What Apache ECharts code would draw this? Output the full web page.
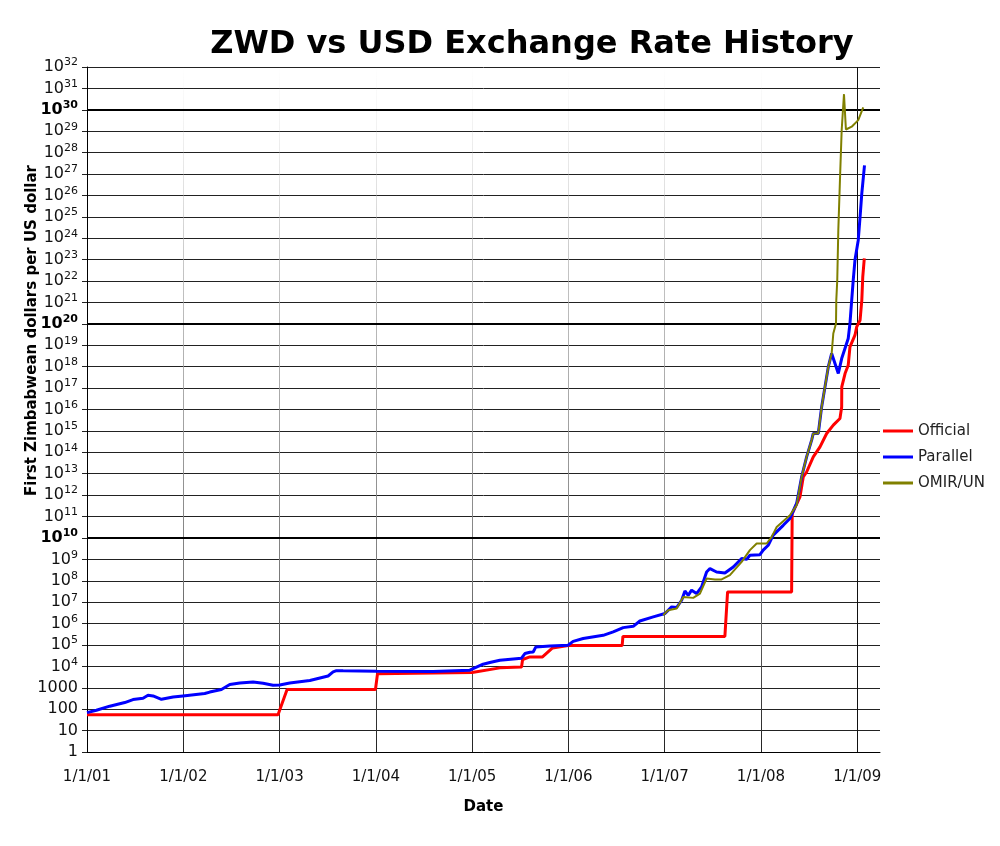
<!DOCTYPE html>
<html>
<head>
<meta charset="utf-8">
<title>ZWD vs USD Exchange Rate History</title>
<script src="https://cdn.jsdelivr.net/npm/echarts@6/dist/echarts.min.js"></script>
<style>
	html,body{margin:0;padding:0;background:#fff;}
	#chart{width:1000px;height:846px;}
</style>
</head>
<body>
<div id="chart"></div>
<script>
//dates are decimal years, values are log10 of ZWD per USD
var officialDates = [2001.0, 2002.984, 2003.078, 2003.996, 2004.017, 2005.0, 2005.288, 2005.513, 2005.524, 2005.6, 2005.731, 2005.835, 2005.997, 2006.558, 2006.566, 2007.625, 2007.653, 2008.318, 2008.324, 2008.405, 2008.439, 2008.474, 2008.543, 2008.613, 2008.682, 2008.751, 2008.82, 2008.838, 2008.839, 2008.873, 2008.906, 2008.924, 2008.976, 2008.994, 2009.029, 2009.047, 2009.057, 2009.073];
var officialLog = [1.74, 1.74, 2.92, 2.92, 3.65, 3.71, 3.93, 3.97, 4.32, 4.44, 4.44, 4.86, 4.97, 4.97, 5.40, 5.40, 7.48, 7.48, 11.14, 11.92, 12.85, 13.08, 13.79, 14.25, 14.88, 15.27, 15.58, 16.12, 17.06, 17.68, 18.07, 18.93, 19.47, 19.86, 20.17, 21.1, 22.2, 23.06];

var parallelDates = [2001.0, 2001.098, 2001.236, 2001.392, 2001.478, 2001.582, 2001.634, 2001.686, 2001.773, 2001.894, 2001.997, 2002.223, 2002.275, 2002.396, 2002.483, 2002.587, 2002.725, 2002.829, 2002.932, 2003.002, 2003.106, 2003.314, 2003.504, 2003.556, 2003.591, 2003.66, 2004.007, 2004.595, 2004.976, 2005.114, 2005.184, 2005.288, 2005.513, 2005.548, 2005.6, 2005.634, 2005.662, 2005.808, 2005.997, 2006.049, 2006.153, 2006.361, 2006.465, 2006.569, 2006.673, 2006.742, 2006.881, 2007.003, 2007.072, 2007.124, 2007.176, 2007.21, 2007.244, 2007.279, 2007.331, 2007.383, 2007.435, 2007.47, 2007.539, 2007.625, 2007.712, 2007.799, 2007.851, 2007.885, 2007.989, 2008.023, 2008.075, 2008.127, 2008.231, 2008.301, 2008.37, 2008.422, 2008.474, 2008.526, 2008.543, 2008.595, 2008.63, 2008.699, 2008.734, 2008.803, 2008.838, 2008.906, 2008.924, 2008.942, 2008.958, 2008.976, 2009.01, 2009.029, 2009.047, 2009.075];
var parallelLog = [1.84, 1.95, 2.14, 2.31, 2.45, 2.51, 2.65, 2.62, 2.46, 2.57, 2.62, 2.73, 2.80, 2.92, 3.15, 3.22, 3.27, 3.21, 3.12, 3.13, 3.22, 3.34, 3.55, 3.74, 3.80, 3.79, 3.77, 3.76, 3.82, 4.10, 4.18, 4.29, 4.38, 4.60, 4.66, 4.67, 4.91, 4.95, 4.99, 5.17, 5.30, 5.45, 5.61, 5.81, 5.87, 6.12, 6.31, 6.47, 6.78, 6.75, 7.09, 7.52, 7.32, 7.56, 7.40, 7.71, 8.41, 8.57, 8.41, 8.36, 8.64, 9.04, 9.00, 9.19, 9.22, 9.43, 9.66, 10.13, 10.59, 10.91, 11.61, 12.85, 13.79, 14.57, 14.88, 14.88, 16.12, 17.99, 18.62, 17.68, 18.38, 19.32, 20.02, 21.1, 22.04, 22.98, 23.91, 25.0, 26.1, 27.4];

var omirDates = [2006.984, 2007.036, 2007.124, 2007.193, 2007.296, 2007.366, 2007.435, 2007.522, 2007.591, 2007.677, 2007.799, 2007.885, 2007.955, 2008.059, 2008.111, 2008.163, 2008.301, 2008.37, 2008.422, 2008.474, 2008.526, 2008.543, 2008.595, 2008.63, 2008.699, 2008.734, 2008.751, 2008.779, 2008.782, 2008.792, 2008.803, 2008.82, 2008.838, 2008.862, 2008.882, 2008.942, 2009.01, 2009.062];
var omirLog = [6.39, 6.62, 6.70, 7.24, 7.20, 7.40, 8.10, 8.06, 8.06, 8.26, 8.88, 9.43, 9.74, 9.74, 10.05, 10.51, 11.06, 11.53, 12.85, 13.79, 14.57, 14.88, 14.88, 16.12, 17.99, 18.62, 19.55, 20.02, 21.1, 22.04, 24.38, 26.71, 29.05, 30.73, 29.08, 29.21, 29.52, 30.11];

var seriesNames = ['Official', 'Parallel', 'OMIR/UN'];
var seriesColors = ['#ff0000', '#0000ff', '#808000'];
var yearTicks = ['1/1/01', '1/1/02', '1/1/03', '1/1/04', '1/1/05', '1/1/06', '1/1/07', '1/1/08', '1/1/09'];

function pairs(xs, ys){
	var out = [];
	for(var i = 0; i < xs.length; i++){
		out.push([xs[i], ys[i]]);
	}
	return out;
}

//y axis tick text: 1, 10, 100, 1000, then 10 with a superscript
function powerLabel(v){
	if(v == 0) return '1';
	if(v == 1) return '10';
	if(v == 2) return '100';
	if(v == 3) return '1000';
	if(v % 10 == 0) return '{bb|10}{bs|' + v + '}';
	return '{b|10}{s|' + v + '}';
}

var myChart = echarts.init(document.getElementById('chart'));
var font = 'DejaVu Sans';

var option = {
	backgroundColor: '#ffffff',
	animation: false,
	textStyle: {fontFamily: font, color: '#111'},
	title: {
		text: 'ZWD vs USD Exchange Rate History',
		left: 527,
		textAlign: 'center',
		top: 24,
		textStyle: {fontFamily: font, fontSize: 32, fontWeight: 'bold', color: '#000'}
	},
	legend: {
		orient: 'vertical',
		left: 883,
		top: 422,
		padding: 0,
		icon: 'rect',
		itemWidth: 30,
		itemHeight: 3,
		itemGap: 8,
		data: seriesNames,
		textStyle: {fontFamily: font, fontSize: 15, color: '#222', lineHeight: 18}
	},
	grid: {left: 87, right: 120, top: 67, bottom: 94},
	xAxis: {
		type: 'value',
		min: 2001,
		max: 2009.236,
		interval: 1,
		name: 'Date',
		nameLocation: 'middle',
		nameGap: 48,
		nameMoveOverlap: false,
		nameTextStyle: {fontFamily: font, fontSize: 15, fontWeight: 'bold', color: '#000'},
		axisLine: {show: true, lineStyle: {color: '#000', width: 1}},
		axisTick: {show: false},
		axisLabel: {
			margin: 18,
			fontFamily: font,
			fontSize: 15,
			color: '#111',
			formatter: function(v){
				var i = Math.round(v - 2001);
				if(Math.abs(v - 2001 - i) > 1e-6) return '';
				return yearTicks[i] || '';
			}
		},
		splitLine: {
			show: true,
			showMinLine: false,
			showMaxLine: false,
			lineStyle: {
				width: 1,
				color: {
					type: 'linear', x: 0, y: 0, x2: 0, y2: 1,
					colorStops: [
						{offset: 0, color: 'rgba(200,200,200,0)'},
						{offset: 0.3, color: 'rgba(170,170,170,0.7)'},
						{offset: 0.75, color: '#777'},
						{offset: 1, color: '#222'}
					]
				}
			}
		}
	},
	yAxis: {
		type: 'value',
		min: 0,
		max: 32,
		interval: 1,
		name: 'First Zimbabwean dollars per US dollar',
		nameLocation: 'middle',
		nameGap: 47,
		nameMoveOverlap: false,
		nameTextStyle: {fontFamily: font, fontSize: 15, fontWeight: 'bold', color: '#000', padding: [0, 0, 0, 158]},
		axisLine: {show: true, lineStyle: {color: '#000', width: 1}},
		axisTick: {show: true, length: 5, lineStyle: {color: '#222'}},
		axisLabel: {
			margin: 9,
			formatter: powerLabel,
			fontFamily: font,
			fontSize: 16,
			color: '#111',
			rich: {
				b: {fontFamily: font, fontSize: 16, color: '#111', lineHeight: 20},
				s: {fontFamily: font, fontSize: 11, color: '#111', lineHeight: 12, verticalAlign: 'top'},
				bb: {fontFamily: font, fontSize: 16, fontWeight: 'bold', color: '#000', lineHeight: 20},
				bs: {fontFamily: font, fontSize: 11, fontWeight: 'bold', color: '#000', lineHeight: 12, verticalAlign: 'top'}
			}
		},
		splitLine: {show: true, lineStyle: {color: '#222', width: 1}}
	},
	series: [
		{
			//heavy lines at 10^10, 10^20, 10^30 and the 1/1/09 line
			name: 'grid',
			type: 'line',
			data: [],
			silent: true,
			markLine: {
				z: 1,
				silent: true,
				symbol: 'none',
				label: {show: false},
				data: [
					{yAxis: 10, lineStyle: {color: '#000', width: 2, type: 'solid'}},
					{yAxis: 20, lineStyle: {color: '#000', width: 2, type: 'solid'}},
					{yAxis: 30, lineStyle: {color: '#000', width: 2, type: 'solid'}},
					{xAxis: 2009, lineStyle: {color: '#111', width: 1, type: 'solid'}}
				]
			}
		},
		{
			name: seriesNames[0],
			type: 'line',
			data: pairs(officialDates, officialLog),
			showSymbol: false,
			symbol: 'none',
			color: seriesColors[0],
			lineStyle: {color: seriesColors[0], width: 3}
		},
		{
			name: seriesNames[1],
			type: 'line',
			data: pairs(parallelDates, parallelLog),
			showSymbol: false,
			symbol: 'none',
			color: seriesColors[1],
			lineStyle: {color: seriesColors[1], width: 3}
		},
		{
			name: seriesNames[2],
			type: 'line',
			data: pairs(omirDates, omirLog),
			showSymbol: false,
			symbol: 'none',
			color: seriesColors[2],
			lineStyle: {color: seriesColors[2], width: 2}
		}
	]
};
myChart.setOption(option);
</script>
</body>
</html>
